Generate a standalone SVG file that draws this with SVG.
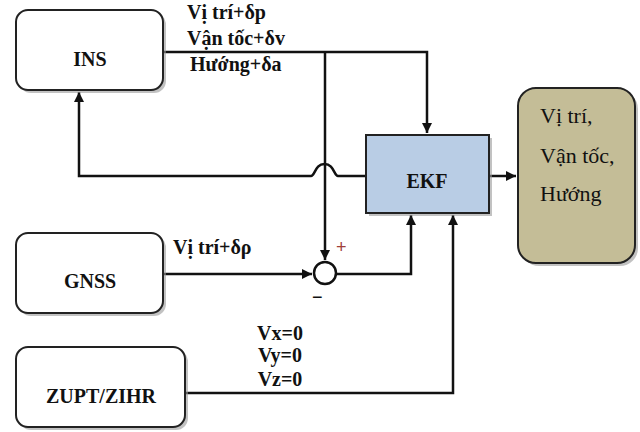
<svg xmlns="http://www.w3.org/2000/svg" width="640" height="432" viewBox="0 0 640 432">
<defs>
<style>
.box{fill:#fff;stroke:#222;stroke-width:2}
.sh{fill:#9a9a9a;opacity:0.6}
.t{font-family:'Liberation Serif','Times New Roman','DejaVu Serif',serif;font-weight:700;font-size:20px;fill:#111}
.tn{font-family:'Liberation Serif','Times New Roman','DejaVu Serif',serif;font-size:22px;fill:#111}
.c{fill:none;stroke:#111;stroke-width:2.5}
</style>
<marker id="ah" viewBox="0 0 10 10" refX="10" refY="5" markerWidth="4" markerHeight="4" orient="auto" markerUnits="strokeWidth">
<path d="M0,0 L10,5 L0,10 z" fill="#111"/>
</marker>
</defs>
<rect width="640" height="432" fill="#fff"/>
<g id="connectors">
<polyline class="c" points="163,52 427,52 427,133" marker-end="url(#ah)"/>
<line class="c" x1="325" y1="52" x2="325" y2="260" marker-end="url(#ah)"/>
<path class="c" d="M366,176 L338,176 C334,176 334,164 324.5,164 C315,164 315,176 311,176 L79,176 L79,92" marker-end="url(#ah)"/>
<line class="c" x1="163" y1="274" x2="312" y2="274" marker-end="url(#ah)"/>
<polyline class="c" points="336,274 411,274 411,215" marker-end="url(#ah)"/>
<polyline class="c" points="185,393 453,393 453,215" marker-end="url(#ah)"/>
<line class="c" x1="489" y1="176" x2="516" y2="176" marker-end="url(#ah)"/>
<circle cx="325" cy="273" r="11" fill="#fff" stroke="#111" stroke-width="2.5"/>
<text x="336" y="253" font-family="'Liberation Sans',sans-serif" font-size="18" fill="#a0403a">+</text>
<text x="312" y="303" font-family="'Liberation Sans',sans-serif" font-size="18" fill="#111">−</text>
<text class="t" x="187" y="19">Vị trí+δp</text>
<text class="t" x="187" y="45">Vận tốc+δv</text>
<text class="t" x="190" y="71">Hướng+δa</text>
<text class="t" x="173" y="254">Vị trí+δρ</text>
<text class="t" x="280" y="340" text-anchor="middle">Vx=0</text>
<text class="t" x="280" y="362" text-anchor="middle">Vy=0</text>
<text class="t" x="280" y="386" text-anchor="middle">Vz=0</text>
</g>
<g id="ins">
<rect class="sh" x="19" y="13" width="147" height="80" rx="12"/>
<rect class="box" x="16" y="10" width="147" height="80" rx="12"/>
<text class="t" x="90" y="66" text-anchor="middle">INS</text>
</g>
<g id="gnss">
<rect class="sh" x="19" y="236" width="147" height="80" rx="12"/>
<rect class="box" x="16" y="233" width="147" height="80" rx="12"/>
<text class="t" x="90" y="288" text-anchor="middle">GNSS</text>
</g>
<g id="zupt">
<rect class="sh" x="19" y="350" width="169" height="80" rx="12"/>
<rect class="box" x="16" y="347" width="169" height="80" rx="12"/>
<text class="t" x="101" y="403" text-anchor="middle">ZUPT/ZIHR</text>
</g>
<g id="ekf">
<rect class="sh" x="369" y="138" width="123" height="78"/>
<rect x="366" y="135" width="123" height="78" fill="#b9cde5" stroke="#222" stroke-width="2"/>
<text class="t" x="427" y="188" text-anchor="middle">EKF</text>
</g>
<g id="output">
<rect class="sh" x="521" y="91" width="117" height="175" rx="18"/>
<rect x="518" y="88" width="117" height="175" rx="18" fill="#c4bd97" stroke="#222" stroke-width="2"/>
<text class="tn" x="540" y="123">Vị trí,</text>
<text class="tn" x="540" y="163">Vận tốc,</text>
<text class="tn" x="540" y="201">Hướng</text>
</g>
</svg>
